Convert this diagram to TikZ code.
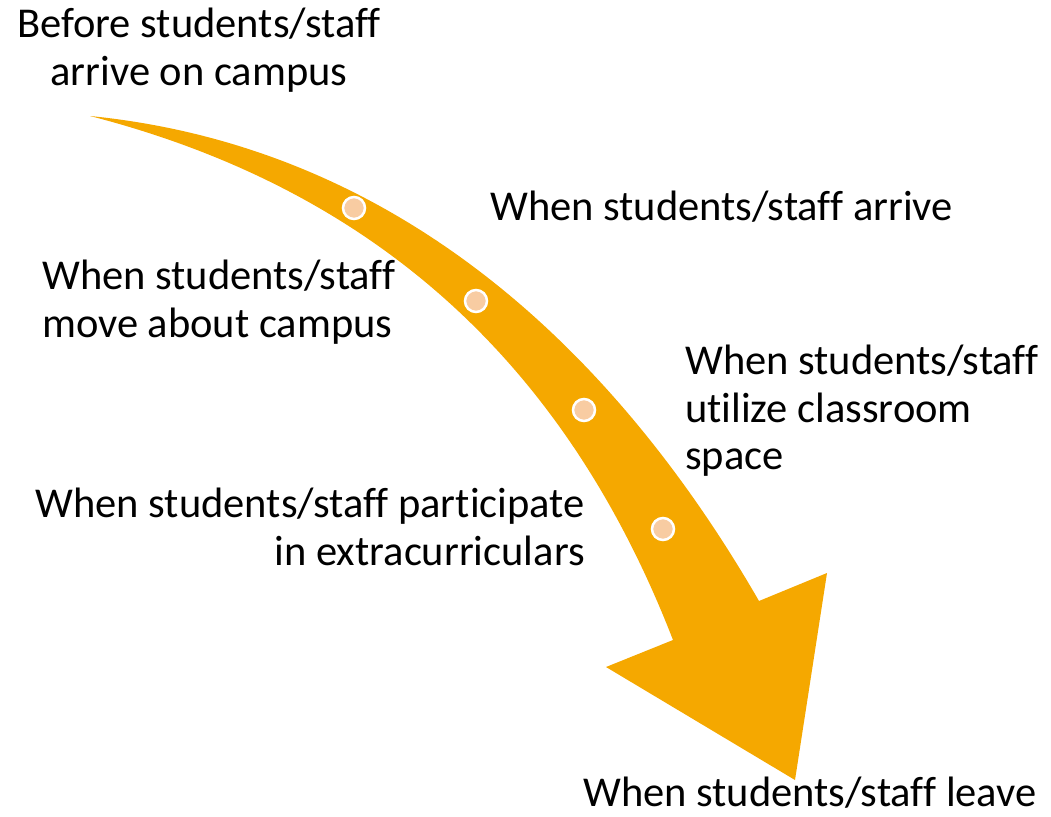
\documentclass[tikz,border=0pt]{standalone}
\usepackage{fontspec}
\setmainfont{Carlito}[Ligatures=NoCommon]
\definecolor{arroworange}{RGB}{245,168,0}
\definecolor{dotpeach}{RGB}{248,204,162}
\begin{document}
\begin{tikzpicture}[x=1pt,y=-1pt,
  lbl/.style={inner sep=0pt,font=\fontsize{42.5}{47.5}\selectfont},
  dot/.style={circle,fill=dotpeach,draw=white,line width=2.5pt,minimum size=22pt,inner sep=0pt}]
\useasboundingbox (0,0) rectangle (1051,816);
% arrow
\fill[arroworange] (90,116)
  .. controls (390,146) and (609,341) .. (759,601)
  -- (827,573) -- (795,780) -- (606,667) -- (673,640)
  .. controls (572,379.6) and (391,193.5) .. (90,116)
  -- cycle;
% dots
\node[dot] (d1) at (354,208) {};
\node[dot] (d2) at (476,301) {};
\node[dot] (d3) at (584,410) {};
\node[dot] (d4) at (663,529) {};
% labels
\node[lbl,anchor=north,align=center] (before) at (199,8) {Before students/staff\\arrive on campus};
\node[lbl,anchor=north west,align=left] (arrive) at (490,191) {When students/staff arrive};
\node[lbl,anchor=north west,align=left] (move) at (42,260) {When students/staff\\move about campus};
\node[lbl,anchor=north west,align=left] (utilize) at (685,345) {When students/staff\\utilize classroom\\space};
\node[lbl,anchor=north east,align=right] (extra) at (585,488) {When students/staff participate\\in extracurriculars};
\node[lbl,anchor=north west,align=left] (leave) at (583,777) {When students/staff leave};
\end{tikzpicture}
\end{document}
